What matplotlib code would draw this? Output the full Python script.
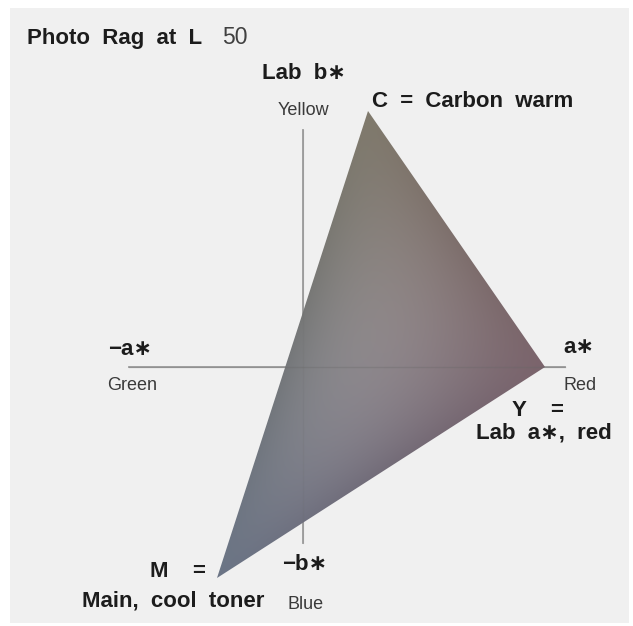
import matplotlib
matplotlib.use("Agg")
import matplotlib.pyplot as plt
import numpy as np
from matplotlib.colors import to_rgb
from matplotlib.patches import Polygon, Rectangle

# toner corners on the a*/b* plane (arbitrary units, origin = neutral)
TONERS = ["C", "Y", "M"]
A_STAR = [6.5, 24.2, -8.6]
B_STAR = [25.6, 0.0, -21.1]
TONER_RGB = ["#807a6c", "#7b646c", "#6b7586"]

# extent of the drawn a* / b* axes
A_RANGE = [-17.4, 26.2]
B_RANGE = [-17.6, 23.7]

W, H, DPI = 633, 626, 100
OX, OY = 303, 367   # pixel position of the a*/b* origin
SCALE = 10.0        # pixels per unit

plt.rcParams["font.family"] = ["Liberation Sans", "DejaVu Sans"]


def px(x, y):
    """pixel position in the picture -> data coords"""
    return (x - OX) / SCALE, (OY - y) / SCALE


fig = plt.figure(figsize=(W / DPI, H / DPI), dpi=DPI, facecolor="white")
ax = fig.add_axes([0, 0, 1, 1])
ax.set_xlim(-OX / SCALE, (W - OX) / SCALE)
ax.set_ylim((OY - H) / SCALE, OY / SCALE)
ax.axis("off")

# light grey card behind everything
ax.add_patch(Rectangle((10 / W, 3 / H), 619 / W, 615 / H, transform=ax.transAxes,
                       facecolor="#f0f0f0", edgecolor="none", zorder=0))

# axes of the a*/b* plane
axis_kw = dict(color="#9c9c9c", linewidth=1.3, zorder=1)
ax.plot(A_RANGE, [0, 0], **axis_kw)
ax.plot([0, 0], B_RANGE, **axis_kw)

# triangle with colours blended between the three toners
verts = np.column_stack([A_STAR, B_STAR])
cols = np.array([to_rgb(c) for c in TONER_RGB])
x0, x1 = verts[:, 0].min(), verts[:, 0].max()
y0, y1 = verts[:, 1].min(), verts[:, 1].max()
gx, gy = np.meshgrid(np.linspace(x0, x1, 400), np.linspace(y1, y0, 500))
(xa, ya), (xb, yb), (xc, yc) = verts
det = (yb - yc) * (xa - xc) + (xc - xb) * (ya - yc)
w1 = ((yb - yc) * (gx - xc) + (xc - xb) * (gy - yc)) / det
w2 = ((yc - ya) * (gx - xc) + (xa - xc) * (gy - yc)) / det
w3 = 1 - w1 - w2
w = np.clip(np.stack([w1, w2, w3], -1), 0, 1)
img = w @ cols + (27 * w[..., 0] * w[..., 1] * w[..., 2])[..., None] * 0.085
img = np.clip(img, 0, 1)
tri = Polygon(verts, closed=True, facecolor="none", edgecolor="none")
ax.add_patch(tri)
im = ax.imshow(img, extent=(x0, x1, y0, y1), origin="upper", zorder=2,
               interpolation="bilinear")
im.set_clip_path(tri)
# faint axis lines still visible through the print
ax.plot(A_RANGE, [0, 0], color="#666666", linewidth=1.0, alpha=0.3, zorder=3)
ax.plot([0, 0], B_RANGE, color="#666666", linewidth=1.0, alpha=0.12, zorder=3)

BOLD = dict(fontsize=16, fontweight="bold", color="#1c1c1c", va="baseline", zorder=5)
SUB = dict(fontsize=13, color="#3a3a3a", va="baseline", zorder=5)

ax.text(*px(27, 44), "Photo  Rag  at  L", ha="left", **BOLD)
ax.text(*px(222, 44), "50", ha="left", fontsize=16.5, color="#404040",
        va="baseline", zorder=5)

ax.text(*px(262, 79), "Lab  b\u2217", ha="left", **BOLD)
ax.text(*px(303, 115), "Yellow", ha="center", **SUB)
ax.text(*px(372, 107), "C  =  Carbon  warm", ha="left", **BOLD)

ax.text(*px(108, 355), "\u2212a\u2217", ha="left", **BOLD)
ax.text(*px(107, 390), "Green", ha="left", **SUB)

ax.text(*px(563, 353), "a\u2217", ha="left", **BOLD)
ax.text(*px(563, 390), "Red", ha="left", **SUB)
ax.text(*px(512, 416), "Y    =", ha="left", **BOLD)
ax.text(*px(612, 438), "Lab  a\u2217,  red", ha="right", **BOLD)

ax.text(*px(150, 577), "M    =", ha="left", **BOLD)
ax.text(*px(82, 607), "Main,  cool  toner", ha="left", **BOLD)
ax.text(*px(282, 570), "\u2212b\u2217", ha="left", **BOLD)
ax.text(*px(287, 609), "Blue", ha="left", **SUB)

fig.savefig("out.png", dpi=DPI, facecolor="white")
